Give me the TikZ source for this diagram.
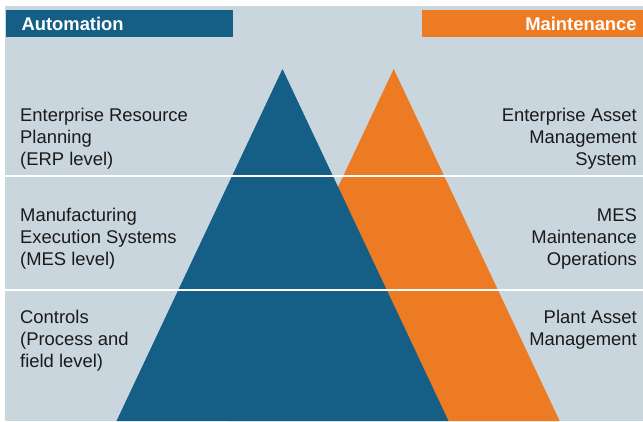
\documentclass[tikz,border=0pt]{standalone}
\usepackage{fontspec}
\setmainfont{Liberation Sans}
\usetikzlibrary{positioning}
\definecolor{autoblue}{RGB}{21,94,134}
\definecolor{maintorange}{RGB}{236,123,35}
\definecolor{bggray}{RGB}{201,214,222}
\definecolor{txtgray}{RGB}{26,26,26}
\newcommand{\lblfont}{\fontsize{18.4}{22}\selectfont}
\tikzstyle{hbar}=[rectangle, anchor=north west, inner ysep=0pt, minimum height=27pt
, text=white, font=\lblfont\bfseries]
\tikzstyle{lbox}=[inner sep=0pt, anchor=base west, align=left, text=txtgray, font=\lblfont]
\tikzstyle{rbox}=[inner sep=0pt, anchor=base east, align=right, text=txtgray, font=\lblfont]
\tikzstyle{sepline}=[line width=2.8pt, white]

\begin{document}
\begin{tikzpicture}[x=1pt, y=-1pt]
    \useasboundingbox (0,0) rectangle (643,421);
    \fill[bggray] (5,6) rectangle (643,421);

% headers
    \node (auto) [hbar, fill=autoblue, minimum width=227pt, inner xsep=15.3pt
    , text width=196.4pt, align=left] at (6,10) {Automation};
    \node (maint) [hbar, fill=maintorange, minimum width=221.3pt, inner xsep=6.5pt
    , text width=208.3pt, align=right] at (421.7,10) {Maintenance};

% pyramids
    \coordinate (otop) at (393.7,69);
    \coordinate (oleft) at (227.7,421);
    \coordinate (oright) at (559.7,421);
    \coordinate (btop) at (282.5,69);
    \coordinate (bleft) at (116.5,421);
    \coordinate (bright) at (448.5,421);
    \fill[maintorange] (otop) -- (oright) -- (oleft) -- cycle;
    \fill[autoblue] (btop) -- (bright) -- (bleft) -- cycle;

% level lines
    \coordinate (l1a) at (5,176);
    \coordinate (l1b) at (643,176);
    \coordinate (l2a) at (5,290);
    \coordinate (l2b) at (643,290);
    \draw[sepline] (l1a) -- (l1b);
    \draw[sepline] (l2a) -- (l2b);

% automation levels (anchored at last line)
    \node (erp) [lbox] at (20,165) {Enterprise Resource\\Planning\\(ERP level)};
    \node (mes) [lbox] at (20,265) {Manufacturing\\Execution Systems\\(MES level)};
    \node (ctrl) [lbox] at (20,367) {Controls\\(Process and\\field level)};

% maintenance levels
    \node (eam) [rbox] at (637,165) {Enterprise Asset\\Management\\System};
    \node (mesm) [rbox] at (637,265) {MES\\Maintenance\\Operations};
    \node (pam) [rbox] at (637,345) {Plant Asset\\Management};
\end{tikzpicture}
\end{document}
